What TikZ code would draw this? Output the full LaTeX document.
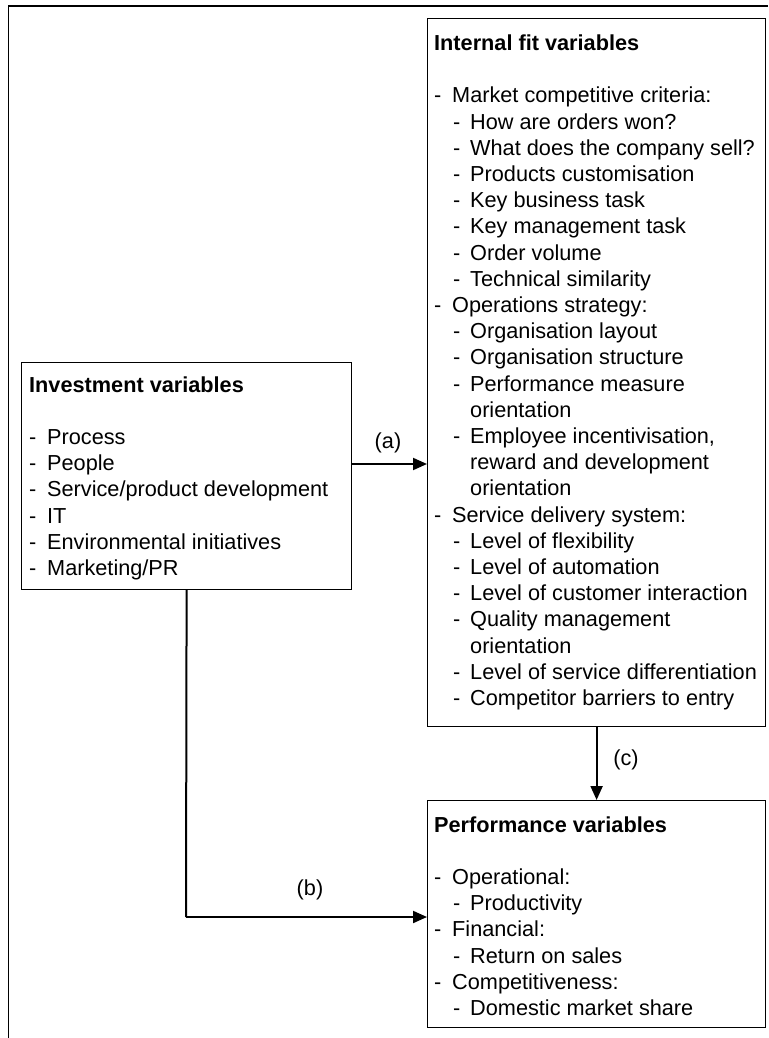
\documentclass[tikz,border=0pt]{standalone}
\usepackage{fontspec}
\setmainfont{Liberation Sans}
\usetikzlibrary{arrows.meta}
\newcommand\Lone[1]{\makebox[18pt][l]{-}#1}
\newcommand\Ltwo[1]{\hspace*{19pt}\makebox[17pt][l]{-}#1}
\newcommand\Lcont[1]{\hspace*{36pt}#1}
\begin{document}
\begin{tikzpicture}[x=1pt,y=-1pt,
  box/.style={draw=black,line width=1.2pt,rectangle,inner sep=0pt,anchor=north west},
  txt/.style={inner sep=0pt,anchor=base west,font=\fontsize{21.7}{26.2}\selectfont},
  lbl/.style={inner sep=0pt,font=\fontsize{21.7}{26.2}\selectfont},
  conn/.style={line width=2pt,-{Triangle[length=14pt,width=12pt]}},
  plain/.style={line width=2pt},
  frame/.style={line width=1.3pt}]
\useasboundingbox (0,0) rectangle (768,1038);
% outer frame
\coordinate (fTR) at (768,6);
\coordinate (fTL) at (8.5,6);
\coordinate (fBL) at (8.5,1038);
\draw[frame] (fTR) -- (fTL) -- (fBL);
% boxes
\node[box,minimum width=330pt,minimum height=227pt] (inv) at (21,362) {};
\node[box,minimum width=338pt,minimum height=708pt] (intl) at (427,18) {};
\node[box,minimum width=338pt,minimum height=227pt] (perf) at (427,800) {};
% texts
\node[txt] (invt) at (29,392) {\begin{tabular}[t]{@{}l@{}}
\textbf{Investment variables}\\
\\
\Lone{Process}\\
\Lone{People}\\
\Lone{Service/product development}\\
\Lone{IT}\\
\Lone{Environmental initiatives}\\
\Lone{Marketing/PR}
\end{tabular}};
\node[txt] (intlt) at (434,50.5) {\begin{tabular}[t]{@{}l@{}}
\textbf{Internal fit variables}\\
\\
\Lone{Market competitive criteria:}\\
\Ltwo{How are orders won?}\\
\Ltwo{What does the company sell?}\\
\Ltwo{Products customisation}\\
\Ltwo{Key business task}\\
\Ltwo{Key management task}\\
\Ltwo{Order volume}\\
\Ltwo{Technical similarity}\\
\Lone{Operations strategy:}\\
\Ltwo{Organisation layout}\\
\Ltwo{Organisation structure}\\
\Ltwo{Performance measure}\\
\Lcont{orientation}\\
\Ltwo{Employee incentivisation,}\\
\Lcont{reward and development}\\
\Lcont{orientation}\\
\Lone{Service delivery system:}\\
\Ltwo{Level of flexibility}\\
\Ltwo{Level of automation}\\
\Ltwo{Level of customer interaction}\\
\Ltwo{Quality management}\\
\Lcont{orientation}\\
\Ltwo{Level of service differentiation}\\
\Ltwo{Competitor barriers to entry}
\end{tabular}};
\node[txt] (perft) at (434,832) {\begin{tabular}[t]{@{}l@{}}
\textbf{Performance variables}\\
\\
\Lone{Operational:}\\
\Ltwo{Productivity}\\
\Lone{Financial:}\\
\Ltwo{Return on sales}\\
\Lone{Competitiveness:}\\
\Ltwo{Domestic market share}
\end{tabular}};
% connectors
\coordinate (aY) at (0,464);
\draw[conn] (inv.east |- aY) -- (intl.west |- aY);
\node[lbl] (la) at (388,443) {(a)};
\coordinate (bturn) at (186,917);
\draw[plain] (inv.south) -- (bturn);
\draw[conn] (bturn) -- (perf.west |- bturn);
\node[lbl] (lb) at (310,890) {(b)};
\draw[conn] (intl.south) -- (perf.north);
\node[lbl] (lc) at (626,760) {(c)};
\end{tikzpicture}
\end{document}
